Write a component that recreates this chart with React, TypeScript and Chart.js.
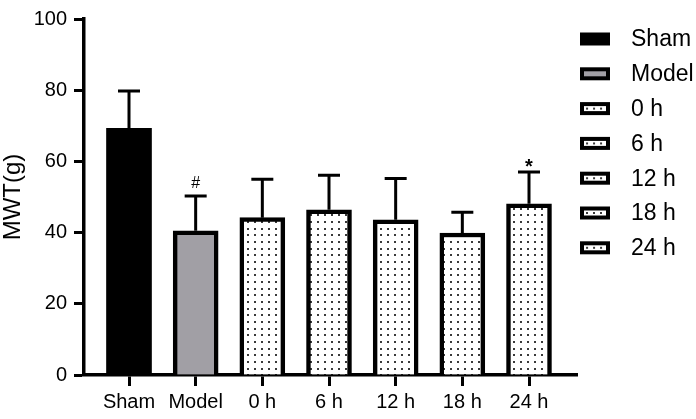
import React, { useEffect, useRef } from "react";
import { Chart, registerables } from "chart.js";

Chart.register(...registerables);

const categories = ["Sham", "Model", "0 h", "6 h", "12 h", "18 h", "24 h"];
const means = [69.3, 40.5, 44.2, 46.4, 43.6, 39.9, 48.1];
const errors = [10.5, 9.8, 10.8, 9.7, 11.6, 5.8, 8.9];
const marks = ["", "#", "", "", "", "", "*"];
const fillKinds = ["black", "gray", "dots", "dots", "dots", "dots", "dots"];
const yTickStep = 20;
const yMin = 0;
const yMax = 100;
const yTitle = "MWT(g)";

const FONT = "'Liberation Sans', Arial, sans-serif";

function makeDots(): CanvasPattern | string {
  const c = document.createElement("canvas");
  c.width = 7;
  c.height = 20;
  const g = c.getContext("2d");
  if (!g) return "#fff";
  g.fillStyle = "#fff";
  g.fillRect(0, 0, 7, 20);
  g.fillStyle = "#3a3a3a";
  [1, 8, 14].forEach((y) => g.fillRect(2, y, 2, 2));
  const p = g.createPattern(c, "repeat");
  return p || "#fff";
}

export default function App() {
  const ref = useRef<HTMLCanvasElement | null>(null);

  useEffect(() => {
    const canvas = ref.current;
    if (!canvas) return;
    const dots = makeDots();
    const fills = fillKinds.map((k) => (k === "black" ? "#000000" : k === "gray" ? "#a19fa5" : dots));

    const errorPlugin = {
      id: "errs",
      afterDatasetsDraw(chart: any) {
        const ctx = chart.ctx;
        const yScale = chart.scales.y;
        ctx.save();
        ctx.strokeStyle = "#000";
        ctx.lineWidth = 3;
        ctx.lineCap = "butt";
        chart.data.datasets.forEach((ds: any, i: number) => {
          const el = chart.getDatasetMeta(i).data[0];
          if (!el) return;
          const x = el.x;
          const yTop = el.y;
          const yCap = yScale.getPixelForValue(means[i] + errors[i]);
          ctx.beginPath();
          ctx.moveTo(x, yTop);
          ctx.lineTo(x, yCap);
          ctx.moveTo(x - 11, yCap);
          ctx.lineTo(x + 11, yCap);
          ctx.stroke();
          if (marks[i]) {
            ctx.fillStyle = "#000";
            ctx.textAlign = "center";
            ctx.textBaseline = "alphabetic";
            if (marks[i] === "*") {
              ctx.font = `bold 20px ${FONT}`;
              ctx.fillText(marks[i], x, yCap + 1);
            } else {
              ctx.font = `16px ${FONT}`;
              ctx.fillText(marks[i], x, yCap - 8);
            }
          }
        });
        ctx.restore();
      },
    };

    const legendPlugin = {
      id: "customLegend",
      afterDraw(chart: any) {
        const ctx = chart.ctx;
        ctx.save();
        chart.data.datasets.forEach((ds: any, i: number) => {
          const yc = 39 + i * 34.8;
          const bx = 580;
          ctx.fillStyle = "#000";
          ctx.fillRect(bx, yc - 6.5, 30, 13);
          if (i > 0) {
            ctx.save();
            ctx.translate(bx + 4, yc - 2);
            ctx.fillStyle = ds.backgroundColor;
            ctx.fillRect(0, -0.5, 22, 5);
            ctx.restore();
          }
          ctx.fillStyle = "#000";
          ctx.font = `23px ${FONT}`;
          ctx.textAlign = "left";
          ctx.textBaseline = "middle";
          ctx.fillText(ds.label, 631, yc + 1);
        });
        // y axis title
        ctx.save();
        ctx.translate(19.5, 197);
        ctx.rotate(-Math.PI / 2);
        ctx.font = `24px ${FONT}`;
        ctx.textAlign = "center";
        ctx.textBaseline = "alphabetic";
        ctx.fillStyle = "#000";
        ctx.fillText(yTitle, 0, 0);
        ctx.restore();
        ctx.restore();
      },
    };

    const chart = new Chart(canvas, {
      type: "bar",
      data: {
        datasets: categories.map((label, i) => ({
          label,
          data: [{ x: i, y: means[i] }],
          backgroundColor: fills[i] as any,
          borderColor: "#000",
          borderWidth: i === 0 ? 0 : 4.5,
          barThickness: 45,
          grouped: false,
        })),
      },
      options: {
        animation: false,
        responsive: false,
        devicePixelRatio: 1,
        layout: { padding: { left: 0, right: 119, top: 18, bottom: 0 } },
        plugins: { legend: { display: false }, tooltip: { enabled: false } },
        scales: {
          x: {
            type: "linear",
            offset: false,
            min: -0.675,
            max: 6.72,
            afterBuildTicks: (s: any) => {
              s.ticks = categories.map((_, i) => ({ value: i }));
            },
            afterFit: (s: any) => {
              s.height = 44;
            },
            ticks: {
              callback: (v: any) => categories[v as number] ?? "",
              font: { size: 20, family: FONT },
              color: "#000",
              padding: 4,
              autoSkip: false,
              maxRotation: 0,
            },
            grid: {
              display: true,
              offset: false,
              drawOnChartArea: false,
              drawTicks: true,
              tickLength: 11,
              tickWidth: 3,
              tickColor: "#000",
            },
            border: { display: true, color: "#000", width: 3.5 },
          },
          y: {
            min: yMin,
            max: yMax,
            afterFit: (s: any) => {
              s.width = 84;
            },
            ticks: {
              stepSize: yTickStep,
              font: { size: 20, family: FONT },
              color: "#000",
              padding: 7,
            },
            grid: {
              display: true,
              drawOnChartArea: false,
              drawTicks: true,
              tickLength: 10,
              tickWidth: 3,
              tickColor: "#000",
            },
            border: { display: true, color: "#000", width: 3.5 },
          },
        },
      },
      plugins: [errorPlugin, legendPlugin],
    } as any);

    return () => chart.destroy();
  }, []);

  return (
    <div style={{ position: "absolute", left: 0, top: 0, width: 696, height: 419, background: "#fff" }}>
      <canvas ref={ref} width={696} height={419} style={{ display: "block", width: 696, height: 419 }} />
    </div>
  );
}
